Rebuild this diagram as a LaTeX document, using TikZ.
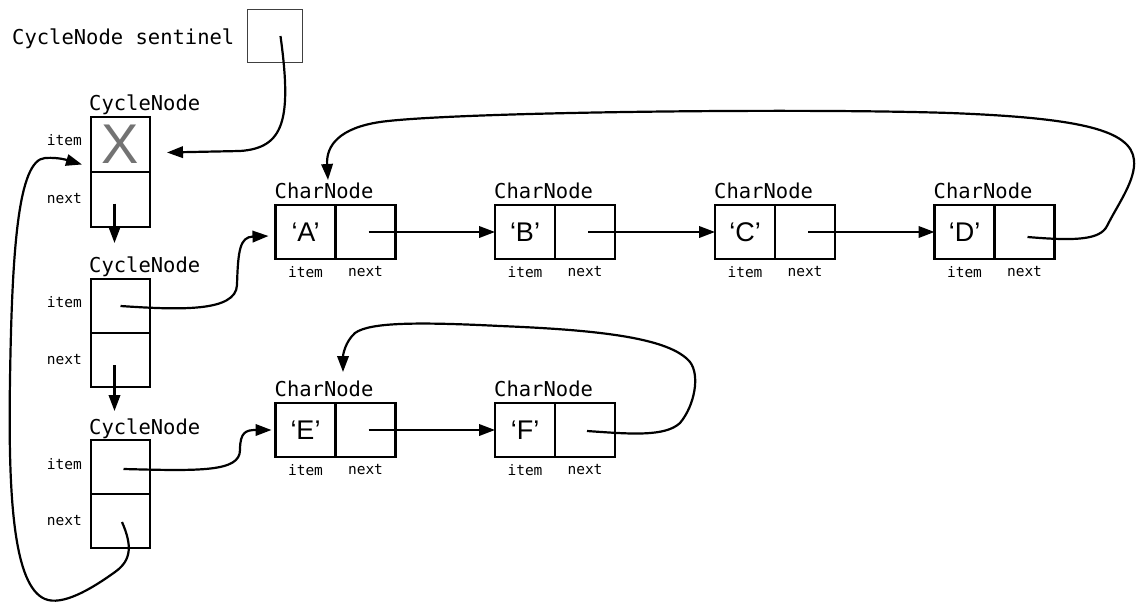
\documentclass[tikz,border=0pt]{standalone}
\usepackage{fontspec}
\setmainfont{Liberation Sans}
\setmonofont{DejaVu Sans Mono}
\usetikzlibrary{arrows.meta,calc}
\tikzset{
  cell/.style={draw, line width=2.4pt, minimum width=60pt, minimum height=54pt, inner sep=0pt, outer sep=0pt, font=\fontsize{27}{27}\selectfont},
  ccell/.style={draw, line width=2.4pt, minimum width=59pt, minimum height=54pt, inner sep=0pt, outer sep=0pt},
  typelab/.style={font=\ttfamily\fontsize{20.5}{20.5}\selectfont, inner sep=0pt, anchor=base west},
  fieldlab/.style={font=\ttfamily\fontsize{14.5}{14.5}\selectfont, inner sep=0pt},
  arr/.style={line width=2.2pt, -{Triangle[length=16pt,width=11.5pt]}},
}
\begin{document}
\begin{tikzpicture}[x=1pt,y=-1pt]
\useasboundingbox (0,0) rectangle (1137,602);
% sentinel
\node[typelab] (sentlab) at (12,45) {CycleNode sentinel};
\node[draw=black!75, line width=1pt, minimum width=55pt, minimum height=53pt, inner sep=0pt, outer sep=0pt] (sent) at (274.5,36.5) {};
% cycle nodes
\node[ccell, minimum height=55pt] (c1item) at (120.5,144.5) {\fontsize{56}{56}\selectfont\color{black!55}X};
\node[ccell, minimum height=55pt] (c1next) at (120.5,199.5) {};
\node[ccell] (c2item) at (120.5,306) {};
\node[ccell] (c2next) at (120.5,360) {};
\node[ccell] (c3item) at (120.5,467) {};
\node[ccell] (c3next) at (120.5,521) {};
\node[typelab] (c1lab) at (89,110) {CycleNode};
\node[typelab] (c2lab) at (89,272) {CycleNode};
\node[typelab] (c3lab) at (89,434) {CycleNode};
\foreach \n/\t/\dy in {c1item/item/4,c1next/next/0.5,c2item/item/4,c2next/next/0.5,c3item/item/3,c3next/next/0} {
  \node[fieldlab, anchor=east] (\n lab) at ([xshift=-9pt,yshift=\dy pt]\n.west) {\t};
}
% char nodes
\foreach \k/\x/\y/\ch in {A/305.5/232/A, B/525/232/B, C/745/232/C, D/964.5/232/D, E/305.5/430/E, F/525/430/F} {
  \node[cell] (\k item) at (\x,\y) {‘\ch’};
  \node[cell] (\k next) at (\x+60,\y) {};
  \node[typelab] (\k lab) at ([xshift=-1pt,yshift=7pt]\k item.north west) {CharNode};
  \node[fieldlab, anchor=north] (\k itl) at ([yshift=-7pt]\k item.south) {item};
  \node[fieldlab, anchor=north] (\k nxl) at ([yshift=-7pt]\k next.south) {next};
}
% connectors
\draw[arr] ([xshift=6pt,yshift=0.5pt]sent.center)
  .. controls (292,120) and (284,148) .. (240,151) -- ([xshift=17pt,yshift=-8pt]c1item.east);
\draw[arr] ([xshift=-6pt,yshift=-4pt]c1next.center) -- ([xshift=-6pt,yshift=36pt]c2item.north);
\draw[arr] ([xshift=-6pt,yshift=-5pt]c2next.center) -- ([xshift=-6pt,yshift=29pt]c3item.north);
\draw[arr] (c2item.center)
  .. controls (180,310) and (236,312) .. (237,285)
  .. controls (238,250) and (240,237) .. ([xshift=-7pt,yshift=-4pt]Aitem.west);
\draw[arr] ([xshift=3pt,yshift=-2pt]c3item.center)
  .. controls (200,471) and (240,472) .. (240,450)
  .. controls (240,432) and (246,430) .. ([xshift=-4pt]Eitem.west);
\draw[arr] ([xshift=1.5pt,yshift=-1pt]c3next.center)
  .. controls (132,545) and (132,560) .. (115,572)
  .. controls (90,590) and (62,606) .. (45,599)
  .. controls (14,586) and (8,500) .. (10,380)
  .. controls (12,250) and (18,160) .. (45,158)
  .. controls (60,157) and (70,161) .. ([xshift=-9pt,yshift=-20pt]c1item.west);
\foreach \s/\t in {A/B, B/C, C/D, E/F} {
  \draw[arr] ([xshift=3pt]\s next.center) -- (\t item.west);
}
\draw[arr] ([xshift=3pt,yshift=-5pt]Dnext.center)
  .. controls (1075,241) and (1100,240) .. (1107,226)
  .. controls (1118,204) and (1136,180) .. (1134,160)
  .. controls (1131,130) and (1080,118) .. (950,113)
  .. controls (800,108) and (450,112) .. (380,122)
  .. controls (340,128) and (326,145) .. ([xshift=22.5pt,yshift=25pt]Aitem.north);
\draw[arr] ([xshift=2pt,yshift=-1pt]Fnext.center)
  .. controls (630,434) and (665,437) .. (680,423)
  .. controls (695,405) and (700,375) .. (690,362)
  .. controls (670,338) and (600,330) .. (500,326)
  .. controls (420,322) and (370,322) .. (355,333)
  .. controls (345,342) and (343,355) .. ([xshift=37.5pt,yshift=31pt]Eitem.north);
\end{tikzpicture}
\end{document}
